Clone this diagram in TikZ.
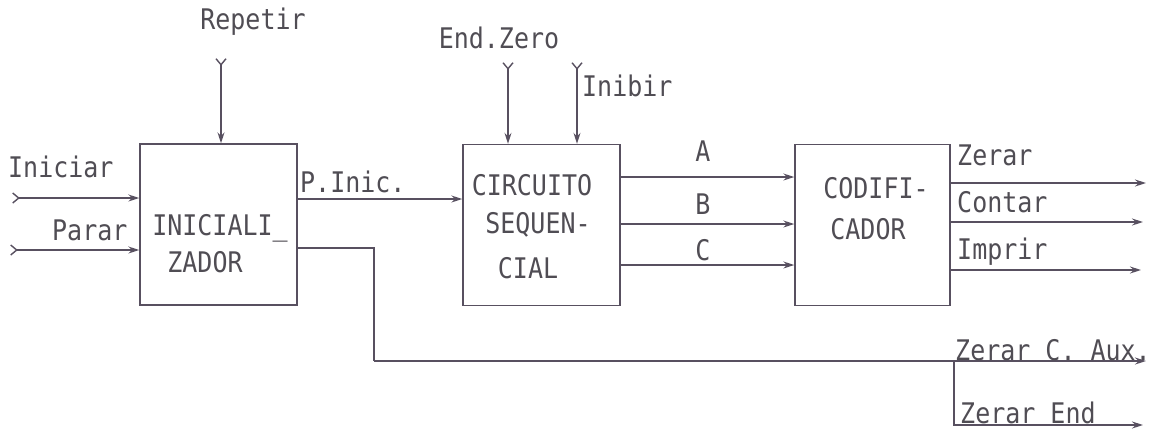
\documentclass[tikz,border=0pt]{standalone}
\usepackage{fontspec}
\setmainfont{DejaVu Sans Mono}[FakeStretch=0.88]
\usetikzlibrary{arrows.meta}
\definecolor{ink}{RGB}{88,80,96}
\definecolor{txt}{RGB}{80,77,84}
\tikzset{
  blk/.style={draw=ink, line width=1.4bp, minimum width=157bp, minimum height=161bp, inner sep=0pt},
  arr/.style={draw=ink, line width=1.4bp, -{Stealth[length=11bp,width=7bp]}},
  inarr/.style={draw=ink, line width=1.4bp, {Straight Barb[reversed,length=6bp,width=10bp]}-{Stealth[length=11bp,width=7bp]}},
  wire/.style={draw=ink, line width=1.4bp},
  lbl/.style={text=txt, inner sep=0pt, font=\fontsize{28.5}{32}\selectfont},
}
\begin{document}
\begin{tikzpicture}[x=1bp,y=-1bp]
\useasboundingbox (0,0) rectangle (1168,429);
% blocks
\node[blk] (inic) at (218.5,224.5) {};
\node[blk] (circ) at (541.5,225) {};
\node[blk, minimum width=155bp] (codif) at (872.5,225) {};
% block texts
\node[lbl] (t1) at (220,228) {INICIALI\_};
\node[lbl] (t2) at (205,262) {ZADOR};
\node[lbl] (t3) at (532,185) {CIRCUITO};
\node[lbl] (t4) at (538,225) {SEQUEN-};
\node[lbl] (t5) at (528,268) {CIAL};
\node[lbl] (t6) at (876,188) {CODIFI-};
\node[lbl] (t7) at (868,229) {CADOR};
% inputs
\coordinate (iniS) at (12,198);
\coordinate (parS) at (10,250);
\coordinate (repS) at (221,58);
\coordinate (endS) at (508,62);
\coordinate (inbS) at (577,62);
\draw[inarr] (iniS) -- (iniS -| inic.west);
\draw[inarr] (parS) -- (parS -| inic.west);
\draw[inarr] (repS) -- (repS |- inic.north);
\draw[inarr] (endS) -- (endS |- circ.north);
\draw[inarr] (inbS) -- (inbS |- circ.north);
\node[lbl, anchor=base west] (lIni) at (8,177) {Iniciar};
\node[lbl, anchor=base west] (lPar) at (52,240) {Parar};
\node[lbl] (lRep) at (253,22) {Repetir};
\node[lbl] (lEnd) at (499,38) {End.Zero};
\node[lbl, anchor=west] (lInb) at (582,86) {Inibir};
% P.Inic.
\draw[arr] (inic.east |- 0,199) -- (circ.west |- 0,199);
\node[lbl, anchor=base west] (lP) at (300,192) {P.Inic.};
% lower path
\coordinate (bend) at (374,361);
\coordinate (split) at (954,361);
\coordinate (auxE) at (1146,361);
\coordinate (endE) at (1143,425);
\draw[wire] (inic.east |- 0,248) -| (bend);
\draw[arr] (bend) -- (auxE);
\draw[arr] (split) |- (endE);
\node[lbl, anchor=base west] (lAux) at (955,360) {Zerar C. Aux.};
\node[lbl, anchor=base west] (lZE) at (960,423) {Zerar End};
% A B C
\draw[arr] (circ.east |- 0,177) -- (codif.west |- 0,177);
\draw[arr] (circ.east |- 0,224) -- (codif.west |- 0,224);
\draw[arr] (circ.east |- 0,265) -- (codif.west |- 0,265);
\node[lbl] (lA) at (703,151) {A};
\node[lbl] (lB) at (703,204) {B};
\node[lbl] (lC) at (703,250) {C};
% outputs
\coordinate (zE) at (1146,183);
\coordinate (cE) at (1143,222);
\coordinate (iE) at (1141,270);
\draw[arr] (codif.east |- zE) -- (zE);
\draw[arr] (codif.east |- cE) -- (cE);
\draw[arr] (codif.east |- iE) -- (iE);
\node[lbl, anchor=base west] (lZ) at (957,165) {Zerar};
\node[lbl, anchor=base west] (lCo) at (957,212) {Contar};
\node[lbl, anchor=base west] (lIm) at (957,259) {Imprir};
\end{tikzpicture}
\end{document}
